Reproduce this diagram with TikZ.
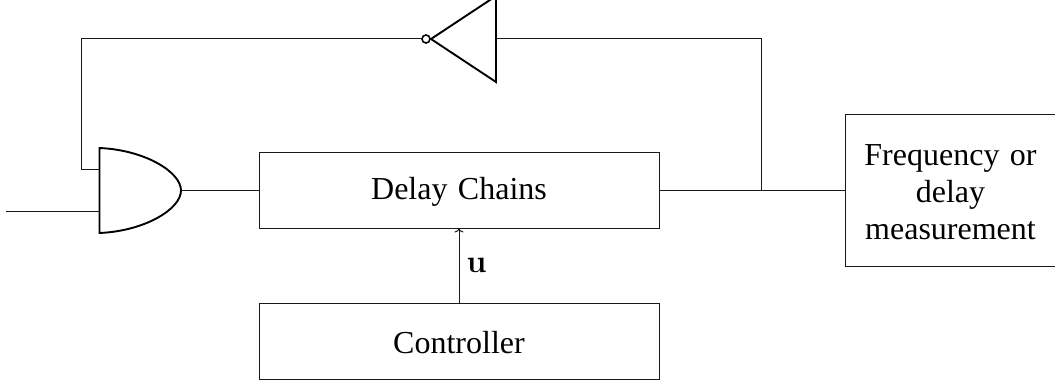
\documentclass[tikz,border=0pt]{standalone}
\usepackage{fontspec}
\setmainfont[WordSpace=1.3]{Liberation Serif}
\newfontfamily\lmfont{Latin Modern Roman}
\usetikzlibrary{arrows.meta}
\tikzset{
  x=1pt,y=-1pt,
  wire/.style={line width=1pt,black!90},
  gate/.style={line width=1.9pt,black},
  blockbox/.style={draw=black!90,line width=1pt,rectangle,inner sep=0pt,align=center,font=\fontsize{32}{36.8}\selectfont},
}
\begin{document}
\begin{tikzpicture}
\useasboundingbox (0,0) rectangle (1055,385);
\clip (0,0) rectangle (1055,385);
% blocks
\node[blockbox,minimum width=400pt,minimum height=75pt,text height=24pt,text depth=5pt] (chain) at (459,190.5) {Delay Chains};
\node[blockbox,minimum width=400pt,minimum height=76pt,text height=24.4pt,text depth=0pt] (ctrl) at (459,341) {Controller};
\node[blockbox,minimum width=211pt,minimum height=152pt] (meas) at (950.5,190.5) {\rule{0pt}{24pt}Frequency or\\delay\\measurement};
% gate anchors
\coordinate (andA) at (99.5,169.5);
\coordinate (andB) at (99.5,211.5);
\coordinate (andO) at (181,190.5);
\coordinate (invI) at (496,39);
\coordinate (invO) at (422,39);
\coordinate (inL) at (6,211.5);
\coordinate (tap) at (761,190.5);
% gates
\draw[gate,line join=miter] (99.5,148) .. controls (145,150) and (181,172) .. (andO)
  .. controls (181,209) and (145,231) .. (99.5,233) -- cycle;
\draw[gate,line join=miter] (496,-4) -- (431,39) -- (496,82) -- cycle;
\draw[line width=1.6pt] (426,39) circle (4);
% wires
\draw[wire] (inL) -- (andB);
\draw[wire] (andO) -- (chain.west);
\draw[wire] (chain.east) -- (meas.west);
\draw[wire] (tap) |- (invI);
\draw[wire] (invO) -| (81,169.5) -- (andA);
\draw[wire,-{To[length=4pt,width=9pt]}] (ctrl.north) -- (chain.south)
  node[midway,anchor=base west,inner sep=0pt,xshift=7pt,yshift=-7.2pt,font=\fontsize{32}{36}\lmfont\bfseries,black] (ulabel) {u};
\end{tikzpicture}
\end{document}
